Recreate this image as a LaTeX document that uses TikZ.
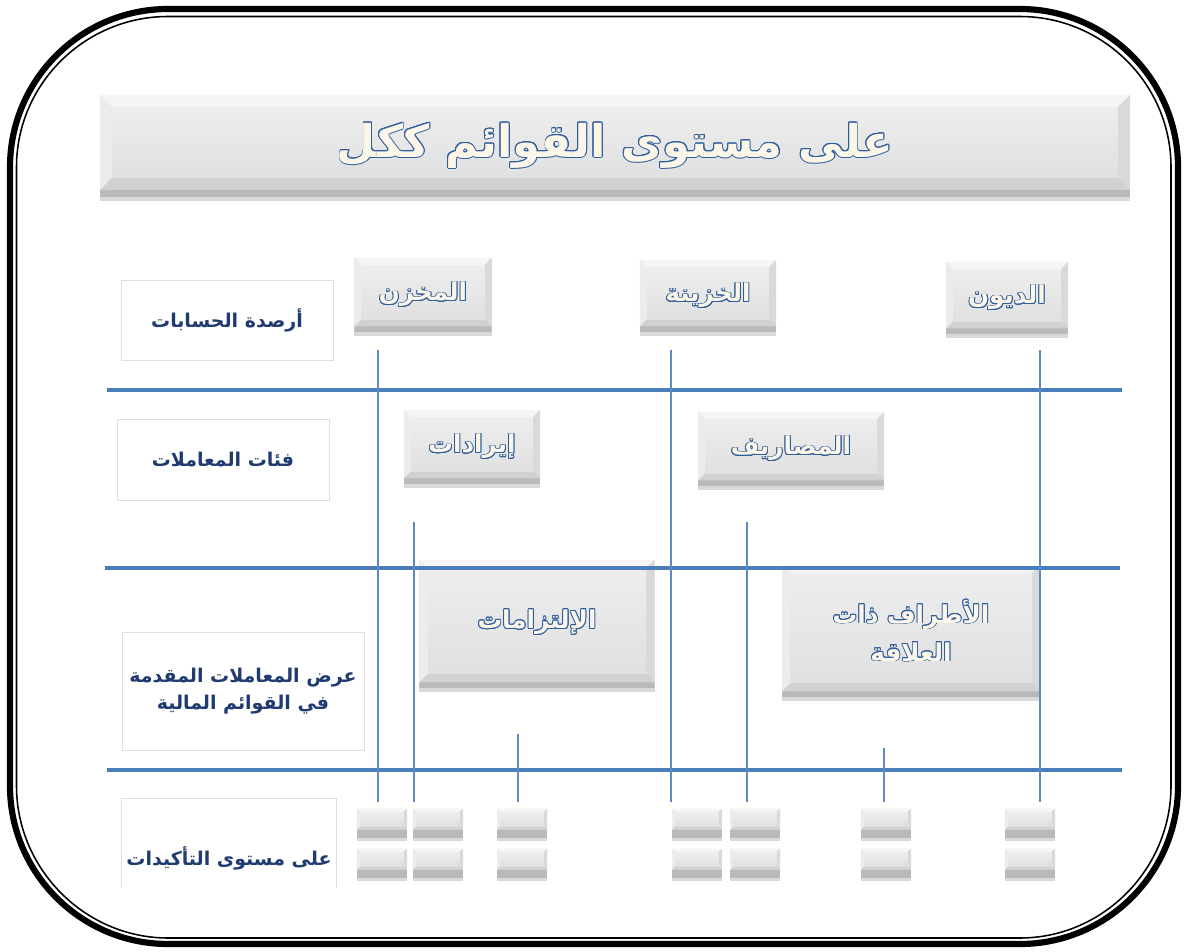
\documentclass[tikz,border=0pt]{standalone}
\usepackage{fontspec}
\usepackage{contour}
\newfontfamily\arabicfont[Script=Arabic]{DejaVu Sans}
\TeXXeTstate=1
\usetikzlibrary{calc,shadows}
\tikzset{
every picture/.style={
line width=1pt
}}
\definecolor{navy}{HTML}{1F3B70}
\definecolor{sepblue}{HTML}{4A7EBB}
\definecolor{cream}{HTML}{FBF6E8}
\definecolor{edgeblue}{HTML}{2F5E9E}
\contourlength{0.6pt}
\newcommand{\artxt}[1]{{\arabicfont\beginR #1\endR}}
\newcommand{\emboss}[1]{{\color{cream}\contour{edgeblue}{\artxt{#1}}}}

\begin{document}
\begin{tikzpicture}[x=0.025cm, y=-0.025cm,
bandh/.store in = \bandh, bandh = 4pt,
label/.style = {rectangle, draw=gray!25, fill=white, line width=0.6pt, align=center, text=navy,
  font=\arabicfont\bfseries\fontsize{13.5}{19}\selectfont},
bevel/.style = {rectangle, inner sep=0pt, align=center, fill=gray!22,
  font=\bfseries\fontsize{17.5}{27}\selectfont,
  drop shadow={shadow xshift=0pt, shadow yshift=-2.5pt, opacity=0.3},
  path picture={
    \coordinate (bA) at (path picture bounding box.south west);
    \coordinate (bC) at (path picture bounding box.north east);
    \coordinate (bB) at (bA -| bC);
    \coordinate (bD) at (bA |- bC);
    \coordinate (bA1) at ($(bA)+(0,\bandh)$);
    \coordinate (bB1) at ($(bB)+(0,\bandh)$);
    \coordinate (iA) at ($(bA1)+(#1,#1)$);
    \coordinate (iB) at ($(bB1)+(-#1,#1)$);
    \coordinate (iC) at ($(bC)+(-#1,-#1)$);
    \coordinate (iD) at ($(bD)+(#1,-#1)$);
    \fill[gray!55] (bA) rectangle (bB1);
    \fill[gray!8] (bD) -- (bC) -- (iC) -- (iD) -- cycle;
    \fill[gray!15] (bA1) -- (bD) -- (iD) -- (iA) -- cycle;
    \fill[gray!30] (bB1) -- (bC) -- (iC) -- (iB) -- cycle;
    \fill[gray!36] (bA1) -- (bB1) -- (iB) -- (iA) -- cycle;
    \shade[top color=gray!14, bottom color=gray!24] (iA) rectangle (iC);
  }},
bevel/.default = 5pt,
keycap/.style = {bevel=2.5pt, bandh=5.5pt, minimum width=1.25cm, minimum height=0.725cm},
sep/.style = {sepblue, line width=3.5pt},
vline/.style = {sepblue!90, line width=0.8pt}]

\useasboundingbox (0,0) rectangle (1184,952);

\draw[line width=4.4pt] (168,9) -- (1020,9) .. controls (1107,9) and (1178,80) .. (1178,167)
  -- (1178,786) .. controls (1178,873) and (1107,944) .. (1020,944) -- (168,944)
  .. controls (81,944) and (10,873) .. (10,786) -- (10,167) .. controls (10,80) and (81,9) .. (168,9) -- cycle;
\draw[line width=1.1pt] (168,16.5) -- (1020,16.5) .. controls (1103,16.5) and (1171,84) .. (1171,167)
  -- (1171,786) .. controls (1171,869) and (1103,938) .. (1020,938) -- (168,938)
  .. controls (85,938) and (16.5,869) .. (16.5,786) -- (16.5,167) .. controls (16.5,84) and (85,16.5) .. (168,16.5) -- cycle;

\node[bevel=9pt, bandh=5pt, minimum width=25.75cm, minimum height=2.55cm] (title) at (615,146)
  {\fontsize{32}{36}\selectfont\emboss{على مستوى القوائم ككل}};

\node[label, minimum width=5.3cm, minimum height=2cm] (l1) at (227,320) {\artxt{أرصدة الحسابات}};
\node[label, minimum width=5.3cm, minimum height=2.025cm] (l2) at (223,460) {\artxt{فئات المعاملات}};
\node[label, minimum width=6.05cm, minimum height=2.95cm] (l3) at (243,691)
  {\artxt{عرض المعاملات المقدمة}\\\artxt{في القوائم المالية}};

\node[bevel, minimum width=3.425cm, minimum height=1.85cm] (inv) at (423,295) {\emboss{المخزن}};
\node[bevel, minimum width=3.4cm, minimum height=1.8cm] (cash) at (708,296) {\emboss{الخزينة}};
\node[bevel, minimum width=3.05cm, minimum height=1.8cm] (debt) at (1007,298) {\emboss{الديون}};
\node[bevel, minimum width=3.4cm, minimum height=1.85cm] (rev) at (472,447) {\emboss{إيرادات}};
\node[bevel, minimum width=4.65cm, minimum height=1.85cm] (exp) at (791,449) {\emboss{المصاريف}};
\node[bevel=6pt, minimum width=5.875cm, minimum height=3.2cm] (liab) at (537,624)
  {\raisebox{7pt}{\emboss{الإلتزامات}}};
\node[bevel=6pt, minimum width=6.45cm, minimum height=3.3cm] (rel) at (911,631)
  {\emboss{الأطراف ذات}\\\emboss{العلاقة}};

\begin{scope}
\clip (0,0) rectangle (1184,887);
\node[label, minimum width=5.3cm, minimum height=3cm] (l4) at (229,858) {\artxt{على مستوى التأكيدات}};
\foreach \i/\x in {1/382,2/438,3/522,4/697,5/755,6/886,7/1030} {
  \node[keycap] (a\i) at (\x,823) {};
  \node[keycap] (b\i) at (\x,863) {};
}
\end{scope}

\draw[sep] (107,390) -- (1122,390);
\draw[sep] (105,568) -- (1120,568);
\draw[sep] (107,770) -- (1122,770);

\foreach \i/\x/\y in {1/378/350,2/414/522,3/518/734,4/671/350,5/747/522,6/884/748,7/1040/350} {
  \coordinate (t\i) at (\x,\y);
  \draw[vline, shorten >=4pt] (t\i) -- (t\i |- a\i.north);
}
\end{tikzpicture}
\end{document}
